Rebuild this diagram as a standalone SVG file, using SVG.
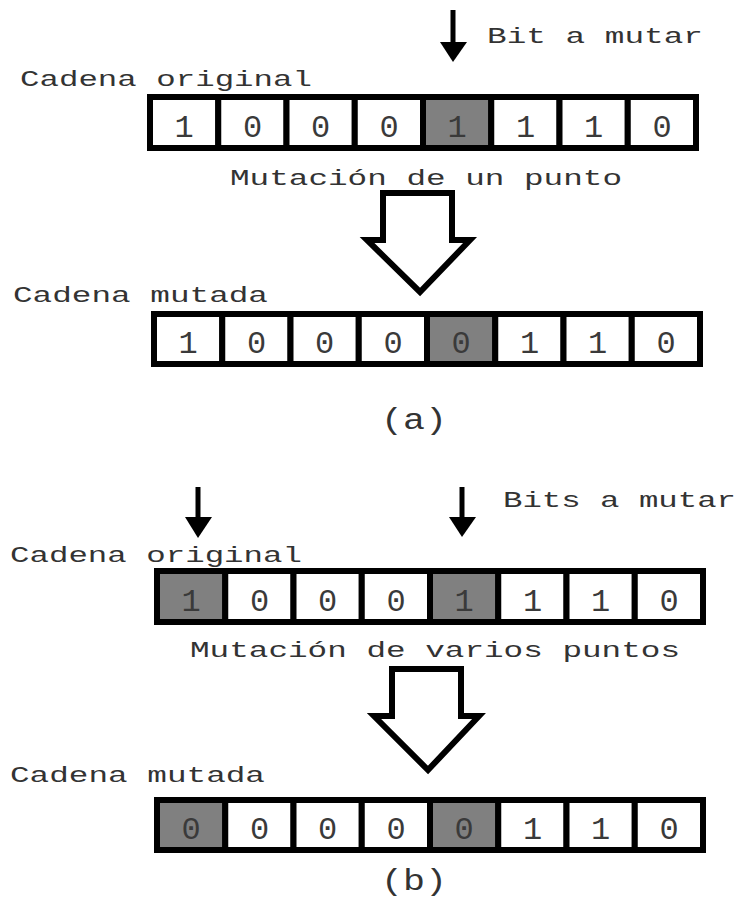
<svg xmlns="http://www.w3.org/2000/svg" width="736" height="912" viewBox="0 0 736 912">
  <defs>
    <style>
      .lbl { font-family: "Liberation Mono", "Courier New", monospace; font-size: 22px; fill: #333; }
      .cap { font-family: "Liberation Mono", "Courier New", monospace; font-size: 29px; fill: #333; }
      .bit { font-family: "Liberation Mono", "Courier New", monospace; font-size: 32px; fill: #3a3a3a; text-anchor: middle; }
      .cell { fill: #fff; stroke: #000; stroke-width: 6; }
      .cell.on { fill: #808080; }
      .pin { stroke: #000; stroke-width: 5; }
      .pinhead { fill: #000; }
      .big { fill: #fff; stroke: #000; stroke-width: 6; stroke-linejoin: miter; }
    </style>
  </defs>
  <rect width="736" height="912" fill="#fff"/>

  <!-- (a) single point mutation -->
  <g id="label-bit-a-mutar"><text class="lbl" x="487" y="43" textLength="216" lengthAdjust="spacingAndGlyphs">Bit a mutar</text></g>
  <g id="label-original-a"><text class="lbl" x="20" y="86" textLength="292" lengthAdjust="spacingAndGlyphs">Cadena original</text></g>

  <g id="string-original-a">
    <rect class="cell" x="150" y="97" width="68.25" height="51"/>
    <rect class="cell" x="218.25" y="97" width="68.25" height="51"/>
    <rect class="cell" x="286.5" y="97" width="68.25" height="51"/>
    <rect class="cell" x="354.75" y="97" width="68.25" height="51"/>
    <rect class="cell on" x="423" y="97" width="68.25" height="51"/>
    <rect class="cell" x="491.25" y="97" width="68.25" height="51"/>
    <rect class="cell" x="559.5" y="97" width="68.25" height="51"/>
    <rect class="cell" x="627.75" y="97" width="68.25" height="51"/>
    <text class="bit" y="137">
      <tspan x="184">1</tspan><tspan x="252.5">0</tspan><tspan x="320.5">0</tspan><tspan x="389">0</tspan><tspan x="457">1</tspan><tspan x="525.5">1</tspan><tspan x="593.5">1</tspan><tspan x="662">0</tspan>
    </text>
  </g>

  <g id="label-mutacion-un-punto"><text class="lbl" x="230" y="185" textLength="392" lengthAdjust="spacingAndGlyphs">Mutación de un punto</text></g>
  <g id="label-mutada-a"><text class="lbl" x="13" y="302" textLength="255" lengthAdjust="spacingAndGlyphs">Cadena mutada</text></g>

  <g id="string-mutated-a">
    <rect class="cell" x="154" y="314" width="68.25" height="50"/>
    <rect class="cell" x="222.25" y="314" width="68.25" height="50"/>
    <rect class="cell" x="290.5" y="314" width="68.25" height="50"/>
    <rect class="cell" x="358.75" y="314" width="68.25" height="50"/>
    <rect class="cell on" x="427" y="314" width="68.25" height="50"/>
    <rect class="cell" x="495.25" y="314" width="68.25" height="50"/>
    <rect class="cell" x="563.5" y="314" width="68.25" height="50"/>
    <rect class="cell" x="631.75" y="314" width="68.25" height="50"/>
    <text class="bit" y="353">
      <tspan x="188">1</tspan><tspan x="256.5">0</tspan><tspan x="324.5">0</tspan><tspan x="393">0</tspan><tspan x="461">0</tspan><tspan x="529.5">1</tspan><tspan x="597.5">1</tspan><tspan x="666">0</tspan>
    </text>
  </g>

  <g id="caption-a"><text class="cap" x="381" y="429" textLength="66" lengthAdjust="spacingAndGlyphs">(a)</text></g>

  <!-- (b) multi point mutation -->
  <g id="label-bits-a-mutar"><text class="lbl" x="503" y="507" textLength="233" lengthAdjust="spacingAndGlyphs">Bits a mutar</text></g>
  <g id="label-original-b"><text class="lbl" x="10" y="562" textLength="292" lengthAdjust="spacingAndGlyphs">Cadena original</text></g>

  <g id="string-original-b">
    <rect class="cell on" x="157" y="571" width="68.25" height="51"/>
    <rect class="cell" x="225.25" y="571" width="68.25" height="51"/>
    <rect class="cell" x="293.5" y="571" width="68.25" height="51"/>
    <rect class="cell" x="361.75" y="571" width="68.25" height="51"/>
    <rect class="cell on" x="430" y="571" width="68.25" height="51"/>
    <rect class="cell" x="498.25" y="571" width="68.25" height="51"/>
    <rect class="cell" x="566.5" y="571" width="68.25" height="51"/>
    <rect class="cell" x="634.75" y="571" width="68.25" height="51"/>
    <text class="bit" y="611">
      <tspan x="191">1</tspan><tspan x="259.5">0</tspan><tspan x="327.5">0</tspan><tspan x="396">0</tspan><tspan x="464">1</tspan><tspan x="532.5">1</tspan><tspan x="600.5">1</tspan><tspan x="669">0</tspan>
    </text>
  </g>

  <g id="label-mutacion-varios"><text class="lbl" x="190" y="657" textLength="490" lengthAdjust="spacingAndGlyphs">Mutación de varios puntos</text></g>
  <g id="label-mutada-b"><text class="lbl" x="10" y="782" textLength="255" lengthAdjust="spacingAndGlyphs">Cadena mutada</text></g>

  <g id="string-mutated-b">
    <rect class="cell on" x="157" y="800" width="68.25" height="50"/>
    <rect class="cell" x="225.25" y="800" width="68.25" height="50"/>
    <rect class="cell" x="293.5" y="800" width="68.25" height="50"/>
    <rect class="cell" x="361.75" y="800" width="68.25" height="50"/>
    <rect class="cell on" x="430" y="800" width="68.25" height="50"/>
    <rect class="cell" x="498.25" y="800" width="68.25" height="50"/>
    <rect class="cell" x="566.5" y="800" width="68.25" height="50"/>
    <rect class="cell" x="634.75" y="800" width="68.25" height="50"/>
    <text class="bit" y="839">
      <tspan x="191">0</tspan><tspan x="259.5">0</tspan><tspan x="327.5">0</tspan><tspan x="396">0</tspan><tspan x="464">0</tspan><tspan x="532.5">1</tspan><tspan x="600.5">1</tspan><tspan x="669">0</tspan>
    </text>
  </g>

  <g id="caption-b"><text class="cap" x="381" y="890" textLength="66" lengthAdjust="spacingAndGlyphs">(b)</text></g>

  <!-- connectors: bit pointers and mutation arrows -->
  <g id="connectors">
    <line class="pin" x1="453" y1="10" x2="453" y2="44"/>
    <polygon class="pinhead" points="440,42 467,42 453,62"/>

    <line class="pin" x1="198" y1="487" x2="198" y2="519"/>
    <polygon class="pinhead" points="185,517 212,517 198,538"/>

    <line class="pin" x1="462" y1="487" x2="462" y2="519"/>
    <polygon class="pinhead" points="449,517 476,517 462,537"/>

    <polygon class="big" points="383,193 452,193 452,240 470,240 420,292 367,240 383,240"/>
    <polygon class="big" points="392,669 461,669 461,716 479,716 428,770 374,716 392,716"/>
  </g>
</svg>
